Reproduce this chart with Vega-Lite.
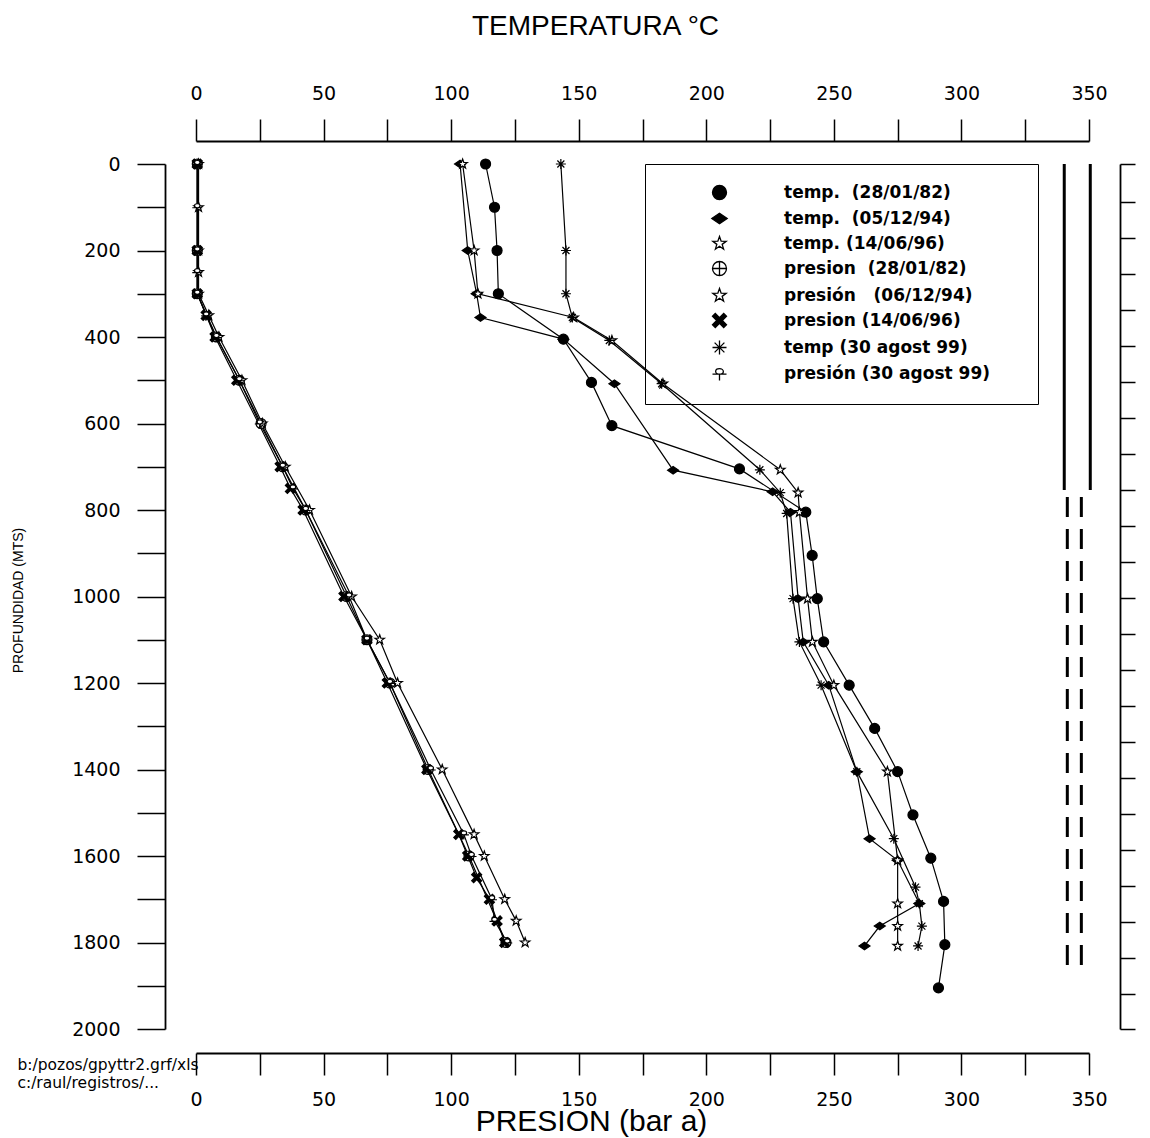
{
  "$schema": "https://vega.github.io/schema/vega-lite/v6.json",
  "width": 893,
  "height": 865,
  "autosize": "none",
  "padding": {"left": 196, "top": 164, "right": 61, "bottom": 109},
  "background": "white",
  "config": {
    "view": {"stroke": null},
    "axis": {
      "grid": false,
      "domainColor": "black",
      "domainWidth": 1.8,
      "tickColor": "black",
      "tickWidth": 1.5,
      "labelColor": "black",
      "titleColor": "black",
      "labelFont": "DejaVu Sans",
      "labelFontSize": 19,
      "labelFontWeight": "normal",
      "labelOverlap": false,
      "labelFlush": false
    }
  },
  "datasets": {
    "profiles": [
      {"series": "temp.\u00a0 (28/01/82)", "depth": 0, "value": 113.5},
      {"series": "temp.\u00a0 (28/01/82)", "depth": 100, "value": 117},
      {"series": "temp.\u00a0 (28/01/82)", "depth": 200, "value": 118},
      {"series": "temp.\u00a0 (28/01/82)", "depth": 300, "value": 118.5},
      {"series": "temp.\u00a0 (28/01/82)", "depth": 405, "value": 144},
      {"series": "temp.\u00a0 (28/01/82)", "depth": 505, "value": 155},
      {"series": "temp.\u00a0 (28/01/82)", "depth": 605, "value": 163},
      {"series": "temp.\u00a0 (28/01/82)", "depth": 705, "value": 213},
      {"series": "temp.\u00a0 (28/01/82)", "depth": 805, "value": 239},
      {"series": "temp.\u00a0 (28/01/82)", "depth": 905, "value": 241.5},
      {"series": "temp.\u00a0 (28/01/82)", "depth": 1005, "value": 243.5},
      {"series": "temp.\u00a0 (28/01/82)", "depth": 1105, "value": 246},
      {"series": "temp.\u00a0 (28/01/82)", "depth": 1205, "value": 256},
      {"series": "temp.\u00a0 (28/01/82)", "depth": 1305, "value": 266},
      {"series": "temp.\u00a0 (28/01/82)", "depth": 1405, "value": 275},
      {"series": "temp.\u00a0 (28/01/82)", "depth": 1505, "value": 281},
      {"series": "temp.\u00a0 (28/01/82)", "depth": 1605, "value": 288},
      {"series": "temp.\u00a0 (28/01/82)", "depth": 1705, "value": 293},
      {"series": "temp.\u00a0 (28/01/82)", "depth": 1805, "value": 293.5},
      {"series": "temp.\u00a0 (28/01/82)", "depth": 1905, "value": 291},

      {"series": "temp.\u00a0 (05/12/94)", "depth": 0, "value": 103.5},
      {"series": "temp.\u00a0 (05/12/94)", "depth": 200, "value": 106.5},
      {"series": "temp.\u00a0 (05/12/94)", "depth": 300, "value": 110},
      {"series": "temp.\u00a0 (05/12/94)", "depth": 355, "value": 111.5},
      {"series": "temp.\u00a0 (05/12/94)", "depth": 405, "value": 144},
      {"series": "temp.\u00a0 (05/12/94)", "depth": 508, "value": 164},
      {"series": "temp.\u00a0 (05/12/94)", "depth": 708, "value": 187},
      {"series": "temp.\u00a0 (05/12/94)", "depth": 758, "value": 226},
      {"series": "temp.\u00a0 (05/12/94)", "depth": 805, "value": 233},
      {"series": "temp.\u00a0 (05/12/94)", "depth": 1005, "value": 236},
      {"series": "temp.\u00a0 (05/12/94)", "depth": 1105, "value": 238},
      {"series": "temp.\u00a0 (05/12/94)", "depth": 1205, "value": 248},
      {"series": "temp.\u00a0 (05/12/94)", "depth": 1405, "value": 259},
      {"series": "temp.\u00a0 (05/12/94)", "depth": 1560, "value": 264},
      {"series": "temp.\u00a0 (05/12/94)", "depth": 1610, "value": 275},
      {"series": "temp.\u00a0 (05/12/94)", "depth": 1710, "value": 283.5},
      {"series": "temp.\u00a0 (05/12/94)", "depth": 1762, "value": 268},
      {"series": "temp.\u00a0 (05/12/94)", "depth": 1808, "value": 262},

      {"series": "temp. (14/06/96)", "depth": 0, "value": 104.5},
      {"series": "temp. (14/06/96)", "depth": 200, "value": 109},
      {"series": "temp. (14/06/96)", "depth": 300, "value": 110.5},
      {"series": "temp. (14/06/96)", "depth": 355, "value": 148},
      {"series": "temp. (14/06/96)", "depth": 408, "value": 163},
      {"series": "temp. (14/06/96)", "depth": 508, "value": 183},
      {"series": "temp. (14/06/96)", "depth": 707, "value": 229},
      {"series": "temp. (14/06/96)", "depth": 760, "value": 236},
      {"series": "temp. (14/06/96)", "depth": 805, "value": 236.5},
      {"series": "temp. (14/06/96)", "depth": 1005, "value": 239.7},
      {"series": "temp. (14/06/96)", "depth": 1105, "value": 241.6},
      {"series": "temp. (14/06/96)", "depth": 1205, "value": 250},
      {"series": "temp. (14/06/96)", "depth": 1405, "value": 271},
      {"series": "temp. (14/06/96)", "depth": 1610, "value": 275},
      {"series": "temp. (14/06/96)", "depth": 1710, "value": 275},
      {"series": "temp. (14/06/96)", "depth": 1762, "value": 275},
      {"series": "temp. (14/06/96)", "depth": 1808, "value": 275},

      {"series": "temp (30 agost 99)", "depth": 0, "value": 143},
      {"series": "temp (30 agost 99)", "depth": 200, "value": 145},
      {"series": "temp (30 agost 99)", "depth": 300, "value": 145},
      {"series": "temp (30 agost 99)", "depth": 355, "value": 147.5},
      {"series": "temp (30 agost 99)", "depth": 408, "value": 162},
      {"series": "temp (30 agost 99)", "depth": 508, "value": 182.5},
      {"series": "temp (30 agost 99)", "depth": 707, "value": 221},
      {"series": "temp (30 agost 99)", "depth": 760, "value": 229},
      {"series": "temp (30 agost 99)", "depth": 808, "value": 231.5},
      {"series": "temp (30 agost 99)", "depth": 1005, "value": 234},
      {"series": "temp (30 agost 99)", "depth": 1105, "value": 236.5},
      {"series": "temp (30 agost 99)", "depth": 1205, "value": 245},
      {"series": "temp (30 agost 99)", "depth": 1405, "value": 259},
      {"series": "temp (30 agost 99)", "depth": 1560, "value": 273.5},
      {"series": "temp (30 agost 99)", "depth": 1672, "value": 282},
      {"series": "temp (30 agost 99)", "depth": 1710, "value": 283.5},
      {"series": "temp (30 agost 99)", "depth": 1762, "value": 284.5},
      {"series": "temp (30 agost 99)", "depth": 1808, "value": 283},

      {"series": "presion\u00a0 (28/01/82)", "depth": 0, "value": 0.5},
      {"series": "presion\u00a0 (28/01/82)", "depth": 200, "value": 0.5},
      {"series": "presion\u00a0 (28/01/82)", "depth": 300, "value": 0.5},
      {"series": "presion\u00a0 (28/01/82)", "depth": 400, "value": 8},
      {"series": "presion\u00a0 (28/01/82)", "depth": 500, "value": 17},
      {"series": "presion\u00a0 (28/01/82)", "depth": 600, "value": 25.5},
      {"series": "presion\u00a0 (28/01/82)", "depth": 700, "value": 34},
      {"series": "presion\u00a0 (28/01/82)", "depth": 800, "value": 43},
      {"series": "presion\u00a0 (28/01/82)", "depth": 1000, "value": 59},
      {"series": "presion\u00a0 (28/01/82)", "depth": 1100, "value": 67},
      {"series": "presion\u00a0 (28/01/82)", "depth": 1200, "value": 76},
      {"series": "presion\u00a0 (28/01/82)", "depth": 1400, "value": 91},
      {"series": "presion\u00a0 (28/01/82)", "depth": 1600, "value": 107},
      {"series": "presion\u00a0 (28/01/82)", "depth": 1800, "value": 121.5},

      {"series": "presión\u00a0\u00a0 (06/12/94)", "depth": 0, "value": 1},
      {"series": "presión\u00a0\u00a0 (06/12/94)", "depth": 100, "value": 1},
      {"series": "presión\u00a0\u00a0 (06/12/94)", "depth": 200, "value": 1},
      {"series": "presión\u00a0\u00a0 (06/12/94)", "depth": 250, "value": 1},
      {"series": "presión\u00a0\u00a0 (06/12/94)", "depth": 300, "value": 1},
      {"series": "presión\u00a0\u00a0 (06/12/94)", "depth": 350, "value": 5},
      {"series": "presión\u00a0\u00a0 (06/12/94)", "depth": 400, "value": 9},
      {"series": "presión\u00a0\u00a0 (06/12/94)", "depth": 500, "value": 18},
      {"series": "presión\u00a0\u00a0 (06/12/94)", "depth": 600, "value": 26},
      {"series": "presión\u00a0\u00a0 (06/12/94)", "depth": 700, "value": 35},
      {"series": "presión\u00a0\u00a0 (06/12/94)", "depth": 800, "value": 44.5},
      {"series": "presión\u00a0\u00a0 (06/12/94)", "depth": 1000, "value": 61},
      {"series": "presión\u00a0\u00a0 (06/12/94)", "depth": 1100, "value": 72},
      {"series": "presión\u00a0\u00a0 (06/12/94)", "depth": 1200, "value": 79},
      {"series": "presión\u00a0\u00a0 (06/12/94)", "depth": 1400, "value": 96.5},
      {"series": "presión\u00a0\u00a0 (06/12/94)", "depth": 1550, "value": 109},
      {"series": "presión\u00a0\u00a0 (06/12/94)", "depth": 1600, "value": 113},
      {"series": "presión\u00a0\u00a0 (06/12/94)", "depth": 1700, "value": 121},
      {"series": "presión\u00a0\u00a0 (06/12/94)", "depth": 1750, "value": 125.5},
      {"series": "presión\u00a0\u00a0 (06/12/94)", "depth": 1800, "value": 129},

      {"series": "presion (14/06/96)", "depth": 0, "value": 0.5},
      {"series": "presion (14/06/96)", "depth": 200, "value": 0.5},
      {"series": "presion (14/06/96)", "depth": 300, "value": 0.5},
      {"series": "presion (14/06/96)", "depth": 350, "value": 4},
      {"series": "presion (14/06/96)", "depth": 400, "value": 7.5},
      {"series": "presion (14/06/96)", "depth": 500, "value": 16},
      {"series": "presion (14/06/96)", "depth": 700, "value": 33},
      {"series": "presion (14/06/96)", "depth": 750, "value": 37},
      {"series": "presion (14/06/96)", "depth": 800, "value": 42},
      {"series": "presion (14/06/96)", "depth": 1000, "value": 58},
      {"series": "presion (14/06/96)", "depth": 1100, "value": 67},
      {"series": "presion (14/06/96)", "depth": 1200, "value": 75},
      {"series": "presion (14/06/96)", "depth": 1400, "value": 90.5},
      {"series": "presion (14/06/96)", "depth": 1550, "value": 103},
      {"series": "presion (14/06/96)", "depth": 1600, "value": 106.5},
      {"series": "presion (14/06/96)", "depth": 1650, "value": 110},
      {"series": "presion (14/06/96)", "depth": 1700, "value": 115},
      {"series": "presion (14/06/96)", "depth": 1750, "value": 118},
      {"series": "presion (14/06/96)", "depth": 1800, "value": 121},

      {"series": "presión (30 agost 99)", "depth": 0, "value": 0.5},
      {"series": "presión (30 agost 99)", "depth": 100, "value": 0.5},
      {"series": "presión (30 agost 99)", "depth": 200, "value": 0.5},
      {"series": "presión (30 agost 99)", "depth": 250, "value": 0.5},
      {"series": "presión (30 agost 99)", "depth": 300, "value": 0.5},
      {"series": "presión (30 agost 99)", "depth": 350, "value": 4},
      {"series": "presión (30 agost 99)", "depth": 400, "value": 8},
      {"series": "presión (30 agost 99)", "depth": 500, "value": 17},
      {"series": "presión (30 agost 99)", "depth": 600, "value": 25},
      {"series": "presión (30 agost 99)", "depth": 700, "value": 34},
      {"series": "presión (30 agost 99)", "depth": 750, "value": 38},
      {"series": "presión (30 agost 99)", "depth": 800, "value": 43},
      {"series": "presión (30 agost 99)", "depth": 1000, "value": 60},
      {"series": "presión (30 agost 99)", "depth": 1100, "value": 67},
      {"series": "presión (30 agost 99)", "depth": 1200, "value": 76},
      {"series": "presión (30 agost 99)", "depth": 1400, "value": 92},
      {"series": "presión (30 agost 99)", "depth": 1550, "value": 105},
      {"series": "presión (30 agost 99)", "depth": 1600, "value": 108},
      {"series": "presión (30 agost 99)", "depth": 1700, "value": 116},
      {"series": "presión (30 agost 99)", "depth": 1750, "value": 117},
      {"series": "presión (30 agost 99)", "depth": 1800, "value": 122}
    ],
    "casing": [
      {"x": 340.3, "top": 0, "bottom": 754, "kind": "solid"},
      {"x": 350.5, "top": 0, "bottom": 754, "kind": "solid"},
      {"x": 341.5, "top": 770, "bottom": 1880, "kind": "dashed"},
      {"x": 347.0, "top": 770, "bottom": 1880, "kind": "dashed"}
    ]
  },
  "layer": [
    {
      "data": {"name": "profiles"},
      "mark": {"type": "line", "stroke": "black", "strokeWidth": 1.2},
      "encoding": {
        "x": {
          "field": "value", "type": "quantitative",
          "scale": {"domain": [0, 350], "nice": false, "zero": false},
          "axis": {
            "orient": "top", "offset": 23,
            "values": [0, 25, 50, 75, 100, 125, 150, 175, 200, 225, 250, 275, 300, 325, 350],
            "format": "d",
            "labelExpr": "datum.value % 50 === 0 ? datum.label : ''",
            "tickSize": 22, "labelPadding": 16,
            "title": "TEMPERATURA °C",
            "titleFont": "Liberation Sans", "titleFontSize": 28, "titleFontWeight": "normal",
            "titleX": 399, "titleY": -107, "titleBaseline": "alphabetic", "titleAlign": "center", "titleAnchor": null,
            "encode": {"ticks": {"update": {"y2": {"signal": "datum.value % 50 === 0 ? -22 : -10"}}}}
          }
        },
        "y": {
          "field": "depth", "type": "quantitative",
          "scale": {"domain": [0, 2000], "reverse": true, "nice": false, "zero": false},
          "axis": {
            "orient": "left", "offset": 31,
            "values": [0, 100, 200, 300, 400, 500, 600, 700, 800, 900, 1000, 1100, 1200, 1300, 1400, 1500, 1600, 1700, 1800, 1900, 2000],
            "format": "d",
            "labelExpr": "datum.value % 200 === 0 ? datum.label : ''",
            "tickSize": 28, "labelPadding": 17,
            "title": "PROFUNDIDAD (MTS)",
            "titleFont": "Liberation Sans Narrow, Liberation Sans", "titleFontSize": 14, "titleFontWeight": "normal",
            "titleAngle": -90, "titleX": -147, "titleY": 436, "titleAlign": "center", "titleBaseline": "middle", "titleAnchor": null,
            "encode": {"ticks": {"update": {"x2": {"signal": "datum.value % 200 === 0 ? -28 : -13"}}}}
          }
        },
        "detail": {"field": "series"},
        "order": {"field": "depth", "type": "quantitative"}
      }
    },
    {
      "data": {"name": "profiles"},
      "mark": {"type": "point", "stroke": "black", "strokeWidth": 1.2, "opacity": 1, "size": 100},
      "encoding": {
        "x": {
          "field": "value", "type": "quantitative",
          "axis": {
            "orient": "bottom", "offset": 24,
            "values": [0, 25, 50, 75, 100, 125, 150, 175, 200, 225, 250, 275, 300, 325, 350],
            "format": "d",
            "labelExpr": "datum.value % 50 === 0 ? datum.label : ''",
            "tickSize": 22, "labelPadding": 15,
            "title": "PRESION (bar a)",
            "titleFont": "Liberation Sans", "titleFontSize": 30, "titleFontWeight": "normal",
            "titleX": 395, "titleY": 77, "titleBaseline": "alphabetic", "titleAlign": "center", "titleAnchor": null,
            "encode": {"ticks": {"update": {"y2": {"signal": "datum.value % 50 === 0 ? 22 : 10"}}}}
          }
        },
        "y": {
          "field": "depth", "type": "quantitative",
          "axis": {
            "orient": "right", "offset": 31,
            "values": [0, 88, 171, 254, 338, 421, 504, 587, 670, 754, 837, 920, 1003, 1086, 1170, 1253, 1336, 1419, 1502, 1586, 1669, 1752, 1835, 1918, 2000],
            "labels": false, "title": null, "tickSize": 15,
            "encode": {"ticks": {"update": {"x2": {"signal": "indexof([0, 171, 338, 504, 670, 837, 1003, 1170, 1336, 1502, 1669, 1835, 2000], datum.value) >= 0 ? 30 : 15"}}}}
          }
        },
        "shape": {
          "field": "series", "type": "nominal",
          "scale": {
            "domain": ["temp.\u00a0 (28/01/82)", "temp.\u00a0 (05/12/94)", "temp. (14/06/96)", "presion\u00a0 (28/01/82)", "presión\u00a0\u00a0 (06/12/94)", "presion (14/06/96)", "temp (30 agost 99)", "presión (30 agost 99)"],
            "range": [
              "M1,0A1,1 0 1,1 -1,0A1,1 0 1,1 1,0Z",
              "M0,-0.75L1.1,0L0,0.75L-1.1,0Z",
              "M0,-1L0.235,-0.324L0.951,-0.309L0.38,0.124L0.588,0.809L0,0.4L-0.588,0.809L-0.38,0.124L-0.951,-0.309L-0.235,-0.324Z",
              "M1,0A1,1 0 1,1 -1,0A1,1 0 1,1 1,0ZM0,-1V1M-1,0H1",
              "M0,-1L0.235,-0.324L0.951,-0.309L0.38,0.124L0.588,0.809L0,0.4L-0.588,0.809L-0.38,0.124L-0.951,-0.309L-0.235,-0.324Z",
              "M-1,-0.6L-0.6,-1L0,-0.4L0.6,-1L1,-0.6L0.4,0L1,0.6L0.6,1L0,0.4L-0.6,1L-1,0.6L-0.4,0Z",
              "M-1,0H1M0,-1V1M-0.7,-0.7L0.7,0.7M-0.7,0.7L0.7,-0.7",
              "M-1,0.1H1M0,0.1V1M0.55,-0.3A0.55,0.4 0 1,1 -0.55,-0.3A0.55,0.4 0 1,1 0.55,-0.3Z"
            ]
          },
          "legend": {
            "orient": "none", "legendX": 449, "legendY": 0,
            "title": "\u00a0", "titleOrient": "right", "titlePadding": 28, "titleFontSize": 17,
            "padding": 20, "strokeColor": "black",
            "symbolSize": 196, "symbolStrokeColor": "black", "symbolFillColor": "white", "symbolStrokeWidth": 1.3,
            "symbolOffset": 46, "labelOffset": 56,
            "labelFont": "DejaVu Sans", "labelFontSize": 17, "labelFontWeight": "bold", "labelColor": "black",
            "labelLimit": 400, "rowPadding": 6,
            "encode": {"symbols": {
              "stroke": {"value": "black"},
              "strokeWidth": {"value": 1.3},
              "opacity": {"value": 1}
            }}
          }
        },
        "fill": {
          "field": "series", "type": "nominal",
          "scale": {
            "domain": ["temp.\u00a0 (28/01/82)", "temp.\u00a0 (05/12/94)", "temp. (14/06/96)", "presion\u00a0 (28/01/82)", "presión\u00a0\u00a0 (06/12/94)", "presion (14/06/96)", "temp (30 agost 99)", "presión (30 agost 99)"],
            "range": ["black", "black", "white", "white", "white", "black", "black", "white"]
          },
          "legend": {
            "orient": "none", "legendX": 449, "legendY": 0,
            "title": "\u00a0", "titleOrient": "right", "titlePadding": 28, "titleFontSize": 17,
            "padding": 20, "strokeColor": "black",
            "symbolSize": 196, "symbolStrokeColor": "black", "symbolFillColor": "white", "symbolStrokeWidth": 1.3,
            "symbolOffset": 46, "labelOffset": 56,
            "labelFont": "DejaVu Sans", "labelFontSize": 17, "labelFontWeight": "bold", "labelColor": "black",
            "labelLimit": 400, "rowPadding": 6,
            "encode": {"symbols": {
              "stroke": {"value": "black"},
              "strokeWidth": {"value": 1.3},
              "opacity": {"value": 1}
            }}
          }
        }
      }
    },
    {
      "data": {"name": "casing"},
      "mark": {"type": "rule", "stroke": "black", "strokeWidth": 3},
      "encoding": {
        "x": {"field": "x", "type": "quantitative", "axis": null},
        "y": {"field": "top", "type": "quantitative", "axis": null},
        "y2": {"field": "bottom"},
        "strokeDash": {
          "field": "kind", "type": "nominal",
          "scale": {"domain": ["solid", "dashed"], "range": [[1, 0], [20, 12]]},
          "legend": null
        }
      }
    },
    {
      "data": {"values": [{"note": "archivo"}]},
      "mark": {
        "type": "text",
        "text": ["b:/pozos/gpyttr2.grf/xls", "c:/raul/registros/..."],
        "align": "left", "baseline": "top",
        "font": "DejaVu Sans", "fontSize": 15.5, "lineHeight": 18, "fill": "black"
      },
      "encoding": {
        "x": {"datum": -70, "type": "quantitative", "axis": null},
        "y": {"datum": 2067, "type": "quantitative", "axis": null}
      }
    }
  ],
  "resolve": {"axis": {"x": "independent", "y": "independent"}}
}
